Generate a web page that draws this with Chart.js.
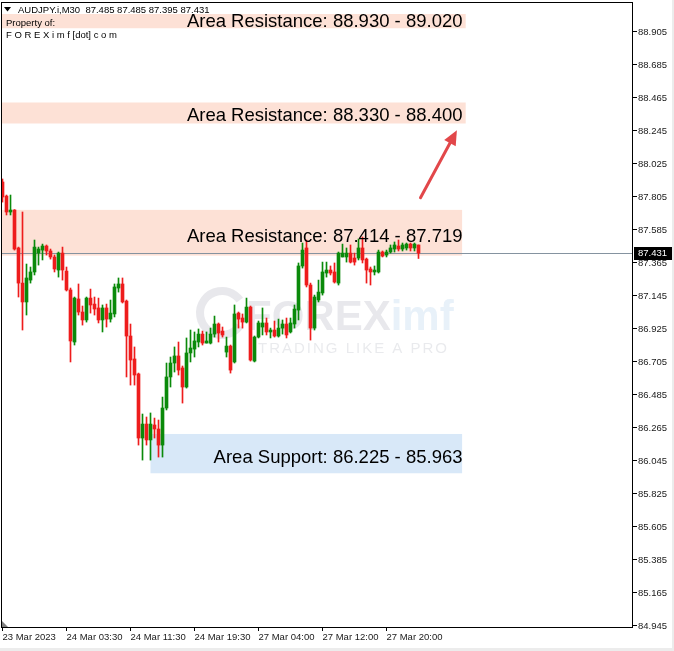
<!DOCTYPE html>
<html>
<head>
<meta charset="utf-8">
<script src="https://cdn.jsdelivr.net/npm/chart.js@4.4.1/dist/chart.umd.min.js"></script>
<style>
  html, body { margin: 0; padding: 0; background: #fff; }
  #wrap { width: 674px; height: 651px; }
</style>
</head>
<body>
<div id="wrap"><canvas id="chart" width="674" height="651"></canvas></div>
<script>
// ---- datos del grafico (AUDJPY M30) ----
const symbol = 'AUDJPY.i,M30';

const opens = [
  87.905, 87.811, 87.705, 87.718, 87.465, 87.231, 87.105, 87.251, 87.305, 87.431,
  87.451, 87.478, 87.445, 87.405, 87.318, 87.431, 87.311, 87.185, 86.838, 87.125,
  87.038, 86.985, 87.131, 87.091, 87.065, 86.985, 87.065, 86.991, 87.025, 87.198,
  87.225, 87.111, 86.878, 86.725, 86.625, 86.198, 86.291, 86.185, 86.285, 86.258,
  86.151, 86.398, 86.605, 86.698, 86.745, 86.665, 86.538, 86.765, 86.791, 86.838,
  86.891, 86.831, 86.831, 86.891, 86.958, 86.911, 86.771, 86.811, 86.705, 87.031,
  86.998, 86.971, 87.071, 86.711, 86.871, 86.938, 86.965, 86.905, 86.918, 86.878,
  86.931, 86.958, 86.905, 86.958, 87.051, 87.345, 87.465, 87.218, 86.931, 87.118,
  87.165, 87.298, 87.318, 87.305, 87.231, 87.405, 87.405, 87.431, 87.398, 87.398,
  87.465, 87.391, 87.325, 87.305, 87.305, 87.438, 87.418, 87.438, 87.458, 87.478,
  87.458, 87.465, 87.491, 87.465, 87.485
];
const highs = [
  87.925, 87.818, 87.818, 87.721, 87.471, 87.705, 87.358, 87.338, 87.518, 87.471,
  87.491, 87.485, 87.458, 87.418, 87.438, 87.471, 87.338, 87.198, 87.138, 87.225,
  87.078, 87.138, 87.191, 87.138, 87.131, 87.085, 87.091, 87.118, 87.225, 87.265,
  87.265, 87.118, 86.958, 86.805, 86.631, 86.358, 86.338, 86.365, 86.331, 86.318,
  86.471, 86.698, 86.738, 86.805, 86.838, 86.678, 86.865, 86.918, 86.905, 86.925,
  86.911, 86.905, 86.931, 87.011, 86.965, 86.938, 86.871, 86.818, 87.085, 87.038,
  87.025, 87.131, 87.078, 86.878, 86.978, 87.065, 86.998, 86.931, 86.978, 86.991,
  86.985, 86.998, 86.998, 87.085, 87.365, 87.498, 87.518, 87.231, 87.151, 87.251,
  87.371, 87.371, 87.345, 87.365, 87.438, 87.491, 87.465, 87.485, 87.431, 87.525,
  87.538, 87.398, 87.338, 87.345, 87.451, 87.445, 87.451, 87.485, 87.505, 87.518,
  87.498, 87.498, 87.498, 87.498, 87.485
];
const lows = [
  87.771, 87.685, 87.685, 87.451, 87.138, 86.918, 87.018, 87.231, 87.285, 87.351,
  87.385, 87.418, 87.391, 87.305, 87.271, 87.251, 87.178, 86.705, 86.818, 87.018,
  86.951, 86.971, 87.031, 87.018, 86.965, 86.905, 86.938, 86.971, 87.005, 87.171,
  87.098, 86.605, 86.551, 86.551, 86.151, 86.051, 86.151, 86.051, 86.198, 86.071,
  86.071, 86.385, 86.538, 86.638, 86.618, 86.431, 86.531, 86.705, 86.738, 86.805,
  86.818, 86.831, 86.825, 86.871, 86.838, 86.871, 86.738, 86.631, 86.698, 86.931,
  86.931, 86.965, 86.711, 86.705, 86.865, 86.885, 86.885, 86.865, 86.871, 86.871,
  86.891, 86.865, 86.898, 86.931, 86.985, 87.331, 87.205, 86.851, 86.918, 87.105,
  87.151, 87.271, 87.285, 87.231, 87.218, 87.405, 87.371, 87.365, 87.351, 87.385,
  87.365, 87.231, 87.218, 87.285, 87.298, 87.405, 87.405, 87.431, 87.438, 87.445,
  87.445, 87.451, 87.445, 87.445, 87.395
];
const closes = [
  87.805, 87.705, 87.718, 87.458, 87.231, 87.105, 87.265, 87.305, 87.471, 87.458,
  87.478, 87.445, 87.405, 87.325, 87.431, 87.318, 87.185, 86.845, 87.131, 87.038,
  86.985, 87.131, 87.085, 87.058, 86.985, 87.065, 86.991, 87.031, 87.205, 87.225,
  87.105, 86.878, 86.718, 86.618, 86.198, 86.291, 86.185, 86.291, 86.258, 86.151,
  86.398, 86.605, 86.698, 86.745, 86.651, 86.538, 86.765, 86.798, 86.845, 86.891,
  86.831, 86.845, 86.891, 86.958, 86.898, 86.885, 86.811, 86.651, 87.025, 86.991,
  86.971, 87.071, 86.718, 86.871, 86.965, 86.965, 86.905, 86.918, 86.878, 86.931,
  86.958, 86.885, 86.965, 87.058, 87.345, 87.451, 87.218, 86.931, 87.138, 87.171,
  87.305, 87.318, 87.298, 87.238, 87.431, 87.431, 87.431, 87.371, 87.371, 87.465,
  87.385, 87.318, 87.305, 87.318, 87.438, 87.411, 87.438, 87.465, 87.485, 87.458,
  87.485, 87.491, 87.465, 87.491, 87.431
];

// eje de tiempo: indice de vela -> etiqueta
const timeTicks = [0, 16, 32, 48, 64, 80, 96];
const timeLabels = ['23 Mar 2023', '24 Mar 03:30', '24 Mar 11:30', '24 Mar 19:30',
                    '27 Mar 04:00', '27 Mar 12:00', '27 Mar 20:00'];

// eje de precios
const priceTicks = [88.905, 88.685, 88.465, 88.245, 88.025, 87.805, 87.585, 87.365, 87.145,
                    86.925, 86.705, 86.485, 86.265, 86.045, 85.825, 85.605, 85.385, 85.165, 84.945];

// zonas de soporte / resistencia
const zoneLabels = ['Area Resistance: 88.930 - 89.020', 'Area Resistance: 88.330 - 88.400',
                    'Area Resistance: 87.414 - 87.719', 'Area Support: 86.225 - 85.963'];
const zoneLow   = [88.930, 88.295, 87.414, 85.963];
const zoneHigh  = [89.025, 88.435, 87.719, 86.225];
const zoneFrom  = [-0.4, -0.4, -0.4, 37];
const zoneTo    = [115.8, 115.8, 114.9, 114.9];
const zoneText  = [88.938, 88.312, 87.505, 86.032];   // linea base del texto
const zoneSupport = [false, false, false, true];

// flecha (indice, precio)
const arrowFrom = [104.5, 87.80];
const arrowTo   = [113.6, 88.25];

const BULL = '#0a8a0a';
const BEAR = '#ee1c1c';
const FONT = '"Liberation Sans", Arial, sans-serif';

// ---- construir datasets ----
const idx = opens.map((_, i) => i);
const candleColors = idx.map(i => closes[i] >= opens[i] ? BULL : BEAR);
const bodyData = idx.map(i => ({ x: i, y: [opens[i], closes[i]] }));
const wickData = idx.map(i => ({ x: i, y: [lows[i], highs[i]] }));
const last = opens.length - 1;

// ---- plugins ----
const backdrop = {
  id: 'backdrop',
  beforeDraw(chart) {
    const ctx = chart.ctx;
    ctx.save();
    ctx.fillStyle = '#fff';
    ctx.fillRect(0, 0, chart.width, chart.height);
    ctx.fillStyle = '#ececec';
    ctx.fillRect(0, chart.height - 3, chart.width, 3);
    ctx.fillRect(chart.width - 2, 0, 2, chart.height);
    ctx.restore();
  },
  beforeDatasetsDraw(chart) {
    const { ctx, chartArea, scales: { x, y } } = chart;
    ctx.save();
    ctx.beginPath();
    ctx.rect(chartArea.left, chartArea.top, chartArea.right - chartArea.left, chartArea.bottom - chartArea.top);
    ctx.clip();

    // zonas
    zoneLabels.forEach((_, k) => {
      const x0 = x.getPixelForValue(zoneFrom[k]);
      const x1 = x.getPixelForValue(zoneTo[k]);
      const y0 = y.getPixelForValue(zoneHigh[k]);
      const y1 = y.getPixelForValue(zoneLow[k]);
      ctx.fillStyle = zoneSupport[k] ? '#d8e8f8' : '#fde1d6';
      ctx.fillRect(x0, y0, x1 - x0, y1 - y0);
    });

    // marca de agua
    ctx.strokeStyle = 'rgba(110,115,135,0.16)';
    ctx.lineWidth = 8;
    ctx.beginPath();
    ctx.arc(222, 313, 22, Math.PI * 0.2, Math.PI * 1.8);
    ctx.stroke();
    ctx.font = 'bold 42px ' + FONT;
    ctx.textBaseline = 'alphabetic';
    ctx.fillStyle = 'rgba(110,115,135,0.16)';
    ctx.fillText('FOREX', 246, 330);
    const w = ctx.measureText('FOREX').width;
    ctx.fillStyle = 'rgba(80,145,210,0.13)';
    ctx.fillText('imf', 246 + w, 330);
    ctx.font = '15px ' + FONT;
    ctx.fillStyle = 'rgba(110,115,135,0.15)';
    ctx.letterSpacing = '2px';
    ctx.fillText('TRADING LIKE A PRO', 258, 353);
    ctx.letterSpacing = '0px';

    // linea de precio actual
    const py = Math.round(y.getPixelForValue(closes[last])) + 0.5;
    ctx.strokeStyle = '#8593a0';
    ctx.lineWidth = 1;
    ctx.beginPath();
    ctx.moveTo(chartArea.left, py);
    ctx.lineTo(chartArea.right, py);
    ctx.stroke();
    ctx.restore();
  },
  afterDatasetsDraw(chart) {
    const { ctx, scales: { x, y } } = chart;
    ctx.save();
    ctx.font = '18.5px ' + FONT;
    ctx.fillStyle = '#000';
    ctx.textAlign = 'right';
    ctx.textBaseline = 'alphabetic';
    zoneLabels.forEach((t, k) => {
      ctx.fillText(t, x.getPixelForValue(115), y.getPixelForValue(zoneText[k]));
    });

    // flecha
    const ax0 = x.getPixelForValue(arrowFrom[0]), ay0 = y.getPixelForValue(arrowFrom[1]);
    const ax1 = x.getPixelForValue(arrowTo[0]), ay1 = y.getPixelForValue(arrowTo[1]);
    const ang = Math.atan2(ay1 - ay0, ax1 - ax0);
    const head = 16;
    ctx.strokeStyle = '#e2474a';
    ctx.fillStyle = '#e2474a';
    ctx.lineWidth = 3;
    ctx.lineCap = 'round';
    ctx.beginPath();
    ctx.moveTo(ax0, ay0);
    ctx.lineTo(ax1 - Math.cos(ang) * head * 0.8, ay1 - Math.sin(ang) * head * 0.8);
    ctx.stroke();
    ctx.beginPath();
    ctx.moveTo(ax1, ay1);
    ctx.lineTo(ax1 - head * Math.cos(ang - 0.42), ay1 - head * Math.sin(ang - 0.42));
    ctx.lineTo(ax1 - head * Math.cos(ang + 0.42), ay1 - head * Math.sin(ang + 0.42));
    ctx.closePath();
    ctx.fill();
    ctx.restore();
  },
  afterDraw(chart) {
    const { ctx, chartArea, scales: { y } } = chart;
    ctx.save();
    // marco
    ctx.strokeStyle = '#000';
    ctx.lineWidth = 1;
    ctx.strokeRect(chartArea.left + 0.5, chartArea.top + 0.5,
                   chartArea.right - chartArea.left - 1, chartArea.bottom - chartArea.top);

    // etiqueta de precio actual
    const py = Math.round(y.getPixelForValue(closes[last]));
    ctx.fillStyle = '#000';
    ctx.fillRect(chartArea.right + 1, py - 6, 38, 13);
    ctx.fillStyle = '#fff';
    ctx.font = '9.5px ' + FONT;
    ctx.textBaseline = 'middle';
    ctx.fillText(closes[last].toFixed(3), chartArea.right + 5, py + 0.5);

    // marcador de desplazamiento
    ctx.fillStyle = '#808080';
    ctx.beginPath();
    ctx.moveTo(chartArea.left + 1, chartArea.bottom - 6);
    ctx.lineTo(chartArea.left + 1, chartArea.bottom);
    ctx.lineTo(chartArea.left + 7, chartArea.bottom);
    ctx.closePath();
    ctx.fill();

    // cabecera
    ctx.fillStyle = '#000';
    ctx.beginPath();
    ctx.moveTo(4, 7); ctx.lineTo(11, 7); ctx.lineTo(7.5, 11.5);
    ctx.closePath();
    ctx.fill();
    ctx.font = '9.5px ' + FONT;
    ctx.textBaseline = 'alphabetic';
    const ohlc = [opens[last], highs[last], lows[last], closes[last]].map(v => v.toFixed(3)).join(' ');
    ctx.fillText(symbol + '  ' + ohlc, 18, 13);
    ctx.fillText('Property of:', 6, 26);
    ctx.fillText('F O R E X i m f [dot] c o m', 6, 38);
    ctx.restore();
  }
};

// ---- grafico ----
new Chart(document.getElementById('chart'), {
  type: 'bar',
  data: {
    datasets: [
      { data: bodyData, backgroundColor: candleColors, barThickness: 3, minBarLength: 1,
        grouped: false, borderWidth: 0 },
      { data: wickData, backgroundColor: candleColors, barThickness: 1,
        grouped: false, borderWidth: 0 }
    ]
  },
  options: {
    responsive: false,
    animation: false,
    layout: { padding: { top: 2, left: 1, right: 0, bottom: 0 } },
    plugins: { legend: { display: false }, tooltip: { enabled: false } },
    scales: {
      x: {
        type: 'linear',
        position: 'bottom',
        offset: false,
        min: -0.375,
        max: 157.625,
        afterBuildTicks: s => { s.ticks = timeTicks.map(v => ({ value: v })); },
        afterFit: s => { s.height = 24; s.paddingLeft = 0; s.paddingRight = 0; },
        ticks: {
          callback: (v, i) => timeLabels[i],
          align: 'start', autoSkip: false, maxRotation: 0, minRotation: 0,
          padding: 1, color: '#1a1a1a', font: { family: FONT, size: 9.5 }
        },
        grid: { offset: false, drawOnChartArea: false, drawTicks: true, tickLength: 4, color: '#000' },
        border: { display: false }
      },
      y: {
        type: 'linear',
        position: 'right',
        min: 84.938,
        max: 89.105,
        afterBuildTicks: s => { s.ticks = priceTicks.map(v => ({ value: v })); },
        afterFit: s => { s.width = 41; s.paddingTop = 0; s.paddingBottom = 0; },
        ticks: {
          callback: v => v.toFixed(3),
          padding: 1, color: '#1a1a1a', font: { family: FONT, size: 9.5 }
        },
        grid: { drawOnChartArea: false, drawTicks: true, tickLength: 4, color: '#000' },
        border: { display: false }
      }
    }
  },
  plugins: [backdrop]
});
</script>
</body>
</html>
